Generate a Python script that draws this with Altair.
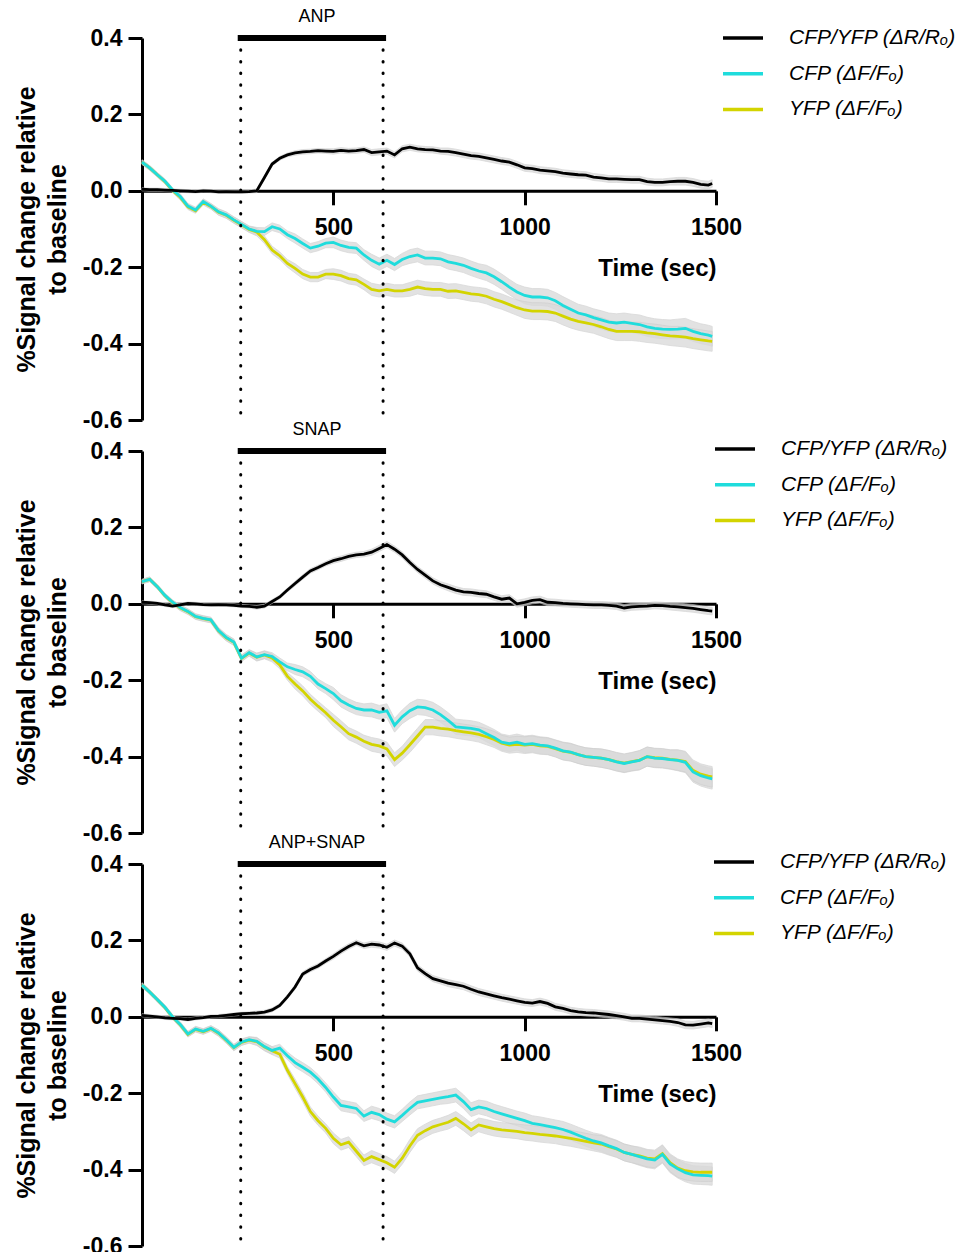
import altair as alt
import pandas as pd

# ---------------- data ----------------
T = list(range(0, 1481, 20)) + [1490]

# Panel 1: ANP
B1 = [0.004, 0.003, 0.003, 0.002, 0.001, 0.000, -0.001, -0.002, 0.000, -0.001,
      -0.003, -0.002, -0.003, -0.003, -0.002, 0.000, 0.035, 0.070, 0.085, 0.094,
      0.099, 0.102, 0.103, 0.105, 0.104, 0.103, 0.106, 0.104, 0.105, 0.108,
      0.100, 0.102, 0.104, 0.094, 0.110, 0.114, 0.110, 0.108, 0.107, 0.104,
      0.103, 0.100, 0.096, 0.092, 0.090, 0.086, 0.082, 0.078, 0.075, 0.068,
      0.060, 0.058, 0.054, 0.052, 0.050, 0.046, 0.044, 0.042, 0.041, 0.036,
      0.034, 0.031, 0.031, 0.030, 0.029, 0.029, 0.024, 0.022, 0.022, 0.024,
      0.025, 0.025, 0.022, 0.017, 0.015, 0.019]
C1 = [0.075, 0.060, 0.042, 0.025, 0.002, -0.015, -0.040, -0.050, -0.028, -0.040,
      -0.055, -0.063, -0.076, -0.088, -0.100, -0.106, -0.107, -0.094, -0.100, -0.115,
      -0.125, -0.138, -0.150, -0.145, -0.137, -0.135, -0.143, -0.148, -0.150, -0.168,
      -0.182, -0.192, -0.182, -0.193, -0.180, -0.172, -0.168, -0.176, -0.176, -0.178,
      -0.186, -0.190, -0.195, -0.203, -0.210, -0.215, -0.225, -0.238, -0.252, -0.265,
      -0.274, -0.278, -0.278, -0.280, -0.288, -0.300, -0.310, -0.320, -0.325, -0.332,
      -0.338, -0.344, -0.346, -0.344, -0.347, -0.350, -0.356, -0.360, -0.362, -0.363,
      -0.362, -0.360, -0.368, -0.374, -0.378, -0.381]
Y1 = [0.075, 0.060, 0.042, 0.024, 0.001, -0.017, -0.042, -0.052, -0.030, -0.041,
      -0.056, -0.064, -0.077, -0.089, -0.101, -0.108, -0.128, -0.155, -0.170, -0.190,
      -0.203, -0.218, -0.226, -0.226, -0.218, -0.218, -0.222, -0.230, -0.233, -0.245,
      -0.258, -0.262, -0.258, -0.262, -0.262, -0.258, -0.252, -0.256, -0.258, -0.258,
      -0.263, -0.262, -0.266, -0.270, -0.272, -0.276, -0.284, -0.290, -0.298, -0.306,
      -0.312, -0.315, -0.315, -0.316, -0.320, -0.328, -0.336, -0.342, -0.346, -0.350,
      -0.356, -0.363, -0.368, -0.368, -0.368, -0.369, -0.372, -0.374, -0.377, -0.380,
      -0.381, -0.383, -0.387, -0.390, -0.393, -0.394]

# Panel 2: SNAP
B2 = [0.004, 0.003, 0.001, -0.003, -0.006, -0.003, 0.001, 0.000, -0.002, -0.003,
      -0.002, -0.003, -0.004, -0.006, -0.007, -0.009, -0.006, 0.006, 0.018, 0.036,
      0.053, 0.070, 0.086, 0.095, 0.105, 0.113, 0.118, 0.124, 0.128, 0.130,
      0.135, 0.145, 0.155, 0.143, 0.128, 0.108, 0.090, 0.075, 0.060, 0.050,
      0.043, 0.036, 0.031, 0.030, 0.027, 0.025, 0.018, 0.012, 0.015, 0.000,
      0.004, 0.009, 0.011, 0.004, 0.003, 0.001, 0.000, -0.001, -0.002, -0.003,
      -0.003, -0.004, -0.006, -0.011, -0.008, -0.007, -0.006, -0.004, -0.005, -0.007,
      -0.008, -0.010, -0.012, -0.015, -0.018, -0.019]
C2 = [0.058, 0.064, 0.045, 0.022, 0.004, -0.010, -0.020, -0.033, -0.038, -0.042,
      -0.070, -0.088, -0.100, -0.142, -0.128, -0.139, -0.133, -0.138, -0.152, -0.165,
      -0.172, -0.178, -0.190, -0.210, -0.222, -0.235, -0.254, -0.265, -0.274, -0.278,
      -0.278, -0.284, -0.280, -0.318, -0.296, -0.280, -0.270, -0.272, -0.278, -0.290,
      -0.305, -0.322, -0.324, -0.326, -0.330, -0.340, -0.350, -0.362, -0.366, -0.362,
      -0.368, -0.366, -0.370, -0.372, -0.378, -0.385, -0.388, -0.395, -0.400, -0.402,
      -0.404, -0.408, -0.414, -0.418, -0.414, -0.410, -0.400, -0.404, -0.405, -0.408,
      -0.410, -0.415, -0.440, -0.450, -0.456, -0.458]
Y2 = [0.058, 0.064, 0.045, 0.021, 0.003, -0.011, -0.021, -0.034, -0.039, -0.043,
      -0.071, -0.089, -0.101, -0.143, -0.129, -0.140, -0.134, -0.142, -0.160, -0.190,
      -0.210, -0.228, -0.250, -0.268, -0.285, -0.305, -0.322, -0.340, -0.349, -0.360,
      -0.368, -0.372, -0.380, -0.408, -0.391, -0.369, -0.346, -0.323, -0.323, -0.326,
      -0.328, -0.332, -0.335, -0.338, -0.342, -0.348, -0.355, -0.365, -0.370, -0.368,
      -0.370, -0.368, -0.372, -0.373, -0.379, -0.386, -0.389, -0.395, -0.400, -0.402,
      -0.404, -0.408, -0.413, -0.417, -0.413, -0.409, -0.400, -0.403, -0.404, -0.407,
      -0.409, -0.413, -0.436, -0.446, -0.451, -0.453]

# Panel 3: ANP+SNAP
B3 = [0.004, 0.002, 0.000, -0.003, -0.004, -0.005, -0.007, -0.004, -0.002, 0.001,
      0.002, 0.004, 0.006, 0.008, 0.009, 0.010, 0.012, 0.018, 0.030, 0.052,
      0.078, 0.112, 0.124, 0.133, 0.146, 0.158, 0.172, 0.184, 0.194, 0.186,
      0.190, 0.188, 0.182, 0.193, 0.185, 0.165, 0.128, 0.113, 0.100, 0.094,
      0.088, 0.084, 0.080, 0.072, 0.065, 0.060, 0.055, 0.050, 0.046, 0.042,
      0.038, 0.036, 0.040, 0.035, 0.026, 0.022, 0.016, 0.013, 0.011, 0.010,
      0.008, 0.006, 0.003, 0.000, -0.004, -0.004, -0.006, -0.008, -0.010, -0.012,
      -0.015, -0.021, -0.022, -0.019, -0.016, -0.018]
C3 = [0.083, 0.065, 0.045, 0.025, 0.000, -0.020, -0.045, -0.032, -0.038, -0.030,
      -0.042, -0.060, -0.080, -0.066, -0.060, -0.064, -0.078, -0.088, -0.082, -0.102,
      -0.120, -0.132, -0.145, -0.163, -0.185, -0.210, -0.232, -0.236, -0.240, -0.260,
      -0.250, -0.256, -0.268, -0.275, -0.258, -0.240, -0.224, -0.220, -0.216, -0.212,
      -0.209, -0.205, -0.222, -0.243, -0.236, -0.240, -0.248, -0.254, -0.260, -0.266,
      -0.272, -0.279, -0.282, -0.286, -0.290, -0.295, -0.302, -0.310, -0.318, -0.325,
      -0.330, -0.338, -0.345, -0.355, -0.360, -0.366, -0.372, -0.375, -0.360, -0.385,
      -0.398, -0.408, -0.414, -0.415, -0.416, -0.417]
Y3 = [0.083, 0.065, 0.045, 0.024, -0.001, -0.021, -0.046, -0.033, -0.039, -0.031,
      -0.043, -0.061, -0.081, -0.067, -0.061, -0.065, -0.079, -0.089, -0.098, -0.140,
      -0.175, -0.210, -0.248, -0.272, -0.292, -0.318, -0.335, -0.328, -0.352, -0.376,
      -0.366, -0.374, -0.382, -0.394, -0.370, -0.338, -0.310, -0.298, -0.288, -0.282,
      -0.276, -0.266, -0.280, -0.296, -0.283, -0.288, -0.293, -0.296, -0.298, -0.300,
      -0.303, -0.305, -0.308, -0.310, -0.312, -0.315, -0.318, -0.322, -0.326, -0.330,
      -0.333, -0.340, -0.346, -0.355, -0.360, -0.364, -0.370, -0.372, -0.358, -0.382,
      -0.396, -0.403, -0.406, -0.407, -0.407, -0.407]

# SEM half-widths of the grey bands, one value per 100 s
SEM_R = [0.004, 0.004, 0.004, 0.005, 0.006, 0.007, 0.008, 0.008, 0.009, 0.009,
         0.009, 0.009, 0.009, 0.009, 0.010]
SEM_F1 = [0.006, 0.007, 0.008, 0.010, 0.012, 0.014, 0.016, 0.018, 0.019, 0.020,
          0.022, 0.023, 0.024, 0.025, 0.026]
SEM_F2 = [0.006, 0.007, 0.008, 0.010, 0.013, 0.016, 0.018, 0.020, 0.020, 0.021,
          0.022, 0.023, 0.024, 0.025, 0.027]
SEM_F3 = [0.006, 0.007, 0.008, 0.010, 0.012, 0.014, 0.016, 0.017, 0.018, 0.019,
          0.020, 0.021, 0.022, 0.023, 0.024]

SERIES = ["CFP/YFP (ΔR/Rₒ)", "CFP (ΔF/Fₒ)", "YFP (ΔF/Fₒ)"]
COLORS = ["#000000", "#1fdcdc", "#d3d400"]
PANELS = ["ANP", "SNAP", "ANP+SNAP"]
STIM_START = [258, 258, 258]
STIM_END = [630, 630, 630]
X_TICKS = [500, 1000, 1500]
Y_TICKS = [-0.6, -0.4, -0.2, 0.0, 0.2, 0.4]

# ---------------- layout ----------------
W, H = 574, 382
FONT = "Liberation Sans"
Y_TITLE = ["%Signal change relative", "to baseline"]


def panel(i, ratio, cfp, yfp, sem_f, leg_x, leg_y):
    rows = []
    for key, vals, sem in [(SERIES[0], ratio, SEM_R), (SERIES[1], cfp, sem_f),
                           (SERIES[2], yfp, sem_f)]:
        for t, v in zip(T, vals):
            s = sem[min(int(t // 100), len(sem) - 1)]
            rows.append({"t": t, "v": v, "lo": v - s, "hi": v + s, "series": key})
    df = pd.DataFrame(rows)
    stim = pd.DataFrame({"start": [STIM_START[i]], "end": [STIM_END[i]],
                         "label": [PANELS[i]]})

    xs = alt.Scale(domain=[0, 1500], nice=False, zero=False)
    ys = alt.Scale(domain=[-0.6, 0.4], nice=False, zero=False)

    x_axis = alt.Axis(values=X_TICKS, format="d", grid=False,
                      labelFontSize=23, labelFontWeight="bold",
                      tickSize=14, tickWidth=3, domainWidth=3,
                      domainColor="black", tickColor="black", labelColor="black",
                      labelPadding=12, labelFlush=False,
                      offset=-0.6 * H, title="Time (sec)", titleFontSize=24,
                      titleFontWeight="bold", titleColor="black",
                      titleAnchor="end", titlePadding=17)
    y_axis = alt.Axis(values=Y_TICKS, format=".1f", grid=False,
                      labelExpr="replace(datum.label, '\u2212', '-')",
                      labelFontSize=23, labelFontWeight="bold", tickSize=14,
                      tickWidth=3, domainWidth=3, domainColor="black",
                      tickColor="black", labelColor="black",
                      labelPadding=6, title=Y_TITLE,
                      titleFontSize=25, titleFontWeight="bold", titleColor="black",
                      titleLineHeight=31, titlePadding=12)

    def X(field):
        return alt.X(field, scale=xs, axis=x_axis, title="Time (sec)")

    def Y(field):
        return alt.Y(field, scale=ys, axis=y_axis, title=Y_TITLE)

    base = alt.Chart(df)
    bands = base.mark_area(color="#d9d9d9", opacity=0.75, stroke="#cccccc",
                           strokeWidth=0.8).encode(
        x=X("t:Q"), y=Y("lo:Q"), y2="hi:Q", detail="series:N",
    )
    color = alt.Color("series:N", scale=alt.Scale(domain=SERIES, range=COLORS),
                      legend=alt.Legend(title=None, orient="none",
                                        legendX=leg_x, legendY=leg_y,
                                        symbolType="stroke", symbolSize=1600,
                                        symbolStrokeWidth=3.5,
                                        labelFont=FONT, labelFontStyle="italic",
                                        labelFontSize=21, labelOffset=24,
                                        labelLimit=0, rowPadding=3.7, padding=0,
                                        labelColor="black"))
    lines = []
    for key in [SERIES[2], SERIES[1], SERIES[0]]:
        lines.append(
            base.transform_filter(alt.datum.series == key)
            .mark_line(strokeWidth=2.8)
            .encode(x=X("t:Q"), y=Y("v:Q"), color=color)
        )
    schart = alt.Chart(stim)
    dots = schart.transform_fold(["start", "end"]).mark_rule(
        color="black", strokeWidth=3, strokeDash=[0.5, 11.2], strokeCap="round"
    ).encode(x=X("value:Q"))
    bar = schart.mark_rule(color="black", strokeWidth=6, strokeCap="square").encode(
        x=X("start:Q"), x2="end:Q", y=alt.value(0))
    label = schart.transform_calculate(mid="(datum.start + datum.end) / 2").mark_text(
        font=FONT, fontSize=18, baseline="alphabetic", dy=-16, dx=5, color="black"
    ).encode(x=X("mid:Q"), y=alt.value(0), text="label:N")

    return alt.layer(bands, *lines, dots, bar, label).properties(width=W, height=H)


p1 = panel(0, B1, C1, Y1, SEM_F1, 579, -22)
p2 = panel(1, B2, C2, Y2, SEM_F2, 571, -24)
p3 = panel(2, B3, C3, Y3, SEM_F3, 570, -24)

chart = (
    alt.vconcat(p1, p2, p3, spacing=31, bounds="flush")
    .resolve_scale(color="independent", x="independent", y="independent")
    .resolve_legend(color="independent")
    .properties(padding={"left": 14, "top": 8, "right": -1, "bottom": -6},
                background="white")
    .configure_view(strokeWidth=0, stroke="transparent")
    .configure_axis(labelFont=FONT, titleFont=FONT, grid=False)
)

chart.save("out.html", embed_options={"renderer": "svg", "actions": False})
